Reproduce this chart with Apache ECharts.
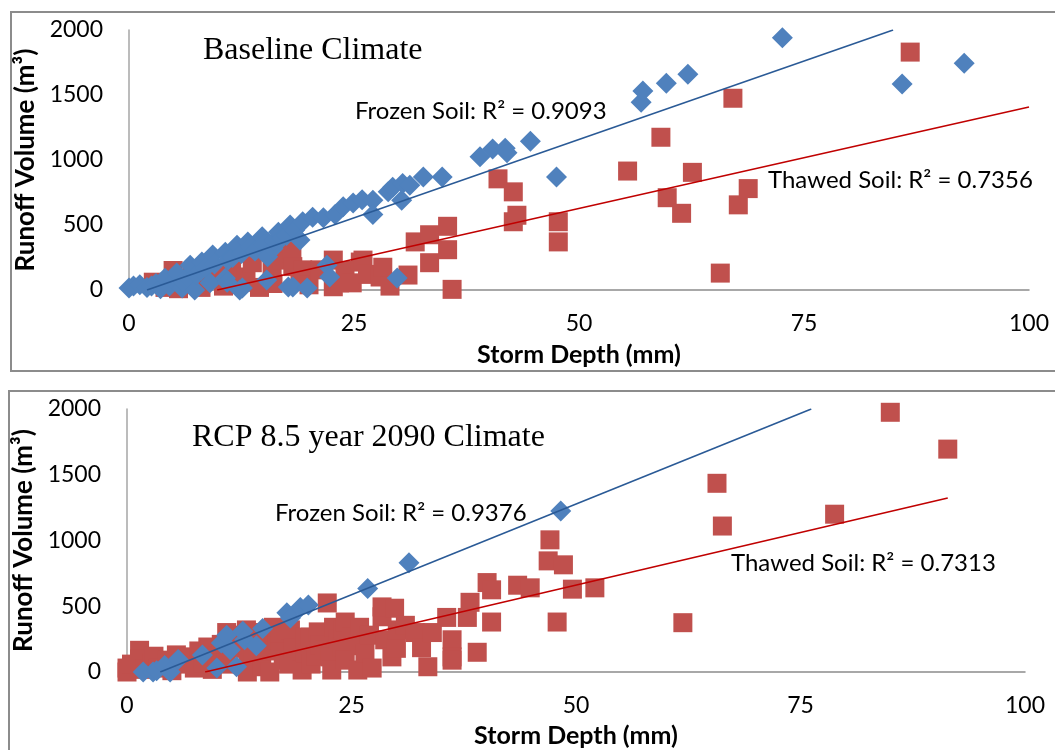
<!DOCTYPE html>
<html>
<head>
<meta charset="utf-8">
<script src="https://cdn.jsdelivr.net/npm/echarts@6/dist/echarts.min.js"></script>
<style>
  html, body { margin: 0; padding: 0; background: #fff; }
  #chart { width: 1055px; height: 750px; }
</style>
</head>
<body>
<div id="chart"></div>
<script>
// storm depth (mm) vs runoff volume (m3)
const xTicks = [0, 25, 50, 75, 100]
const yTicks = [0, 500, 1000, 1500, 2000]

const baseFrozen = [
  [0, 15], [0.5, 30], [1.2, 40], [2, 20], [2.5, 30], [3, 50], [3.5, 10], [4, 90], [4.5, 30],
  [5, 70], [5.3, 130], [5.9, 15], [6, 60], [6.5, 100], [6.8, 190], [7.3, 0], [7.5, 120],
  [8, 150], [8.1, 215], [8.5, 170], [9, 55], [9.3, 270], [9.5, 200], [10.7, 290], [10.7, 90],
  [10.9, 60], [11, 230], [11.5, 250], [12, 345], [12.3, 0], [12.5, 280], [12.6, 15],
  [13.2, 370], [13.5, 330], [14, 300], [14.8, 410], [15, 350], [15.3, 77], [15.4, 255],
  [16, 320], [16.2, 380], [16.6, 445], [17, 400], [17.5, 420], [17.7, 23], [17.9, 500],
  [18.2, 23], [18.4, 460], [19, 385], [19.3, 525], [19.8, 15], [20.4, 560], [21.6, 555],
  [22, 190], [22.3, 100], [22.9, 580], [23.8, 640], [24.9, 670], [25.9, 695], [27.1, 690],
  [27.1, 580], [28.8, 755], [29.3, 790], [29.8, 92], [30.3, 690], [30.4, 820], [31.2, 805],
  [32.7, 870], [34.8, 870], [39, 1025], [40.4, 1085], [41.8, 1090], [42, 1055], [44.6, 1145],
  [47.5, 870], [56.9, 1445], [57.1, 1530], [59.7, 1590], [62.1, 1660], [72.6, 1940],
  [85.9, 1585], [92.8, 1745]
]

const baseThawed = [
  [2.7, 60], [4, 20], [4.9, 150], [5.5, 10], [6.4, 55], [7, 100], [8, 20], [8.5, 80],
  [9.6, 130], [10.5, 30], [11.4, 155], [12.5, 60], [13, 100], [13.7, 210], [14.5, 20],
  [15.9, 175], [16, 50], [17, 230], [17.3, 400], [17.6, 360], [18.1, 285], [18.2, 180],
  [19, 90], [19.3, 155], [20, 40], [21.2, 155], [22.7, 230], [22.7, 25], [23.4, 55],
  [24, 150], [24.8, 55], [25.7, 215], [26, 230], [26.5, 120], [27.9, 100], [28.2, 175],
  [29, 30], [31, 115], [31.8, 370], [33.4, 425], [33.4, 210], [35.4, 490], [35.4, 310],
  [35.9, 5], [41, 855], [42.7, 755], [42.7, 525], [43.1, 575], [47.7, 525], [47.7, 370],
  [55.4, 915], [59.1, 1175], [59.8, 710], [61.4, 590], [62.6, 905], [65.7, 130],
  [67.1, 1475], [67.7, 655], [68.8, 780], [86.8, 1830]
]

const futFrozen = [
  [1.8, 0], [2.9, 0], [3.3, 10], [4.2, 50], [4.8, 0], [5.7, 95], [8.4, 130], [10, 30],
  [10.5, 220], [11.1, 280], [11.5, 170], [12.2, 40], [12.9, 310], [13.1, 245], [14.4, 200],
  [15.1, 330], [17.8, 450], [18.2, 410], [19.3, 490], [20.2, 510], [26.8, 635], [31.4, 830],
  [48.3, 1225]
]

const futThawed = [
  [0, 30], [0, 0], [0.5, 60], [1.4, 165], [1.4, 100], [2, 20], [2.8, 70], [3, 120],
  [3.5, 30], [4.5, 90], [5, 10], [5.5, 130], [6, 60], [7, 115], [7.5, 30], [8, 160],
  [8.5, 70], [9, 190], [9.2, 185], [9.5, 20], [10, 120], [10.5, 210], [11, 60], [11.1, 300],
  [11.5, 265], [12, 180], [12.5, 230], [12.9, 280], [13.3, 320], [13.4, 0], [13.5, 100],
  [14, 150], [14.8, 300], [15, 40], [15.5, 160], [15.9, 0], [16.3, 340], [16.7, 245],
  [17, 200], [17, 295], [17.4, 90], [18, 60], [18.2, 320], [18.5, 180], [19.5, 15],
  [19.8, 265], [19.8, 145], [20.4, 265], [20.5, 60], [21, 120], [21.3, 305], [21.5, 205],
  [22, 165], [22.3, 525], [22.6, 115], [22.8, 15], [23, 340], [23.5, 250], [23.9, 190],
  [24.1, 320], [24.3, 380], [24.3, 90], [25, 265], [25.7, 15], [25.9, 340], [26, 200],
  [26.5, 145], [27, 280], [27.3, 30], [28.4, 420], [28.4, 495], [28.7, 245], [29.5, 115],
  [29.8, 485], [30, 180], [30.1, 320], [31, 355], [32.1, 300], [32.8, 185], [33.5, 40],
  [34, 300], [35.6, 415], [36.2, 245], [36.2, 115], [36.2, 90], [37.9, 415], [38.2, 530],
  [39, 150], [40.1, 680], [40.6, 625], [40.6, 380], [43.5, 660], [44.9, 640], [46.9, 845],
  [47.1, 1005], [47.9, 380], [48.6, 815], [49.6, 630], [52.1, 640], [61.9, 375],
  [65.7, 1435], [66.3, 1110], [78.8, 1200], [85, 1975], [91.4, 1695]
]

// linear trendlines, endpoints as excel clipped them
const baseFrozenFit = [[2.0, 0], [84.9, 2000]]
const baseThawedFit = [[9.8, 0], [100, 1408]]
const futFrozenFit = [[3.7, 0], [76.2, 2000]]
const futThawedFit = [[8.7, 0], [91.4, 1323]]

const titles = ['Baseline Climate', 'RCP 8.5 year 2090 Climate']
const frozenR2 = ['Frozen Soil: R² = 0.9093', 'Frozen Soil: R² = 0.9376']
const thawedR2 = ['Thawed Soil: R² = 0.7356', 'Thawed Soil: R² = 0.7313']

const sans = 'Lato'
const blue = '#4F81BD'
const red = '#C0504D'

const chart = echarts.init(document.getElementById('chart'))

const xAxisOf = (idx, gap) => ({
  gridIndex: idx,
  type: 'value',
  min: xTicks[0],
  max: xTicks[xTicks.length - 1],
  interval: xTicks[1] - xTicks[0],
  axisLine: { show: true, onZero: false, lineStyle: { color: '#8c8c8c', width: 1.5 } },
  axisTick: { show: false },
  splitLine: { show: false },
  axisLabel: { fontSize: 23, color: '#000', margin: 22, fontFamily: sans },
  name: 'Storm Depth (mm)',
  nameLocation: 'middle',
  nameGap: gap,
  nameTextStyle: { fontSize: 25, fontWeight: 'bold', color: '#000', fontFamily: sans }
})

const yAxisOf = (idx) => ({
  gridIndex: idx,
  type: 'value',
  min: yTicks[0],
  max: yTicks[yTicks.length - 1],
  interval: yTicks[1] - yTicks[0],
  axisLine: { show: true, lineStyle: { color: '#a6a6a6', width: 1.5 } },
  axisTick: { show: false },
  splitLine: { show: false },
  axisLabel: {
    fontSize: 23, color: '#000', margin: 26, fontFamily: sans,
    formatter: (v) => String(v)
  },
  name: 'Runoff Volume (m³)',
  nameLocation: 'middle',
  nameGap: 77,
  nameTextStyle: { fontSize: 26, fontWeight: 'bold', color: '#000', fontFamily: sans }
})

const scatter = (idx, data, symbol, color, size) => ({
  type: 'scatter',
  xAxisIndex: idx,
  yAxisIndex: idx,
  data: data,
  symbol: symbol,
  symbolSize: size,
  itemStyle: { color: color, opacity: 1 },
  silent: true
})

const trend = (idx, data, color) => ({
  type: 'line',
  xAxisIndex: idx,
  yAxisIndex: idx,
  data: data,
  showSymbol: false,
  symbol: 'none',
  lineStyle: { color: color, width: 1.6 },
  silent: true
})

const label = (x, y, text, font) => ({
  type: 'text',
  x: x,
  y: y,
  silent: true,
  style: {
    text: text,
    font: font,
    fill: '#000',
    textVerticalAlign: 'middle',
    verticalAlign: 'middle'
  }
})

const option = {
  animation: false,
  backgroundColor: '#fff',
  grid: [
    { left: 129, top: 30, width: 900, height: 260 },
    { left: 127, top: 409, width: 898, height: 263 }
  ],
  xAxis: [xAxisOf(0, 52), xAxisOf(1, 51)],
  yAxis: [yAxisOf(0), yAxisOf(1)],
  series: [
    scatter(0, baseThawed, 'rect', red, 19),
    scatter(0, baseFrozen, 'diamond', blue, 21),
    trend(0, baseThawedFit, '#C00000'),
    trend(0, baseFrozenFit, '#2A5A96'),
    scatter(1, futThawed, 'rect', red, 19),
    scatter(1, futFrozen, 'diamond', blue, 21),
    trend(1, futThawedFit, '#C00000'),
    trend(1, futFrozenFit, '#2A5A96')
  ],
  graphic: [
    { type: 'rect', shape: { x: 11, y: 12, width: 1060, height: 359 },
      style: { fill: 'none', stroke: '#8c8c8c', lineWidth: 2 }, silent: true },
    { type: 'rect', shape: { x: 9, y: 391, width: 1060, height: 400 },
      style: { fill: 'none', stroke: '#8c8c8c', lineWidth: 2 }, silent: true },
    label(203, 51, titles[0], '32px "Liberation Serif"'),
    label(192, 438, titles[1], '32px "Liberation Serif"'),
    label(355, 111, frozenR2[0], '24px ' + sans),
    label(768, 180, thawedR2[0], '24px ' + sans),
    label(275, 513, frozenR2[1], '24px ' + sans),
    label(731, 563, thawedR2[1], '24px ' + sans)
  ]
}

chart.setOption(option)
</script>
</body>
</html>
